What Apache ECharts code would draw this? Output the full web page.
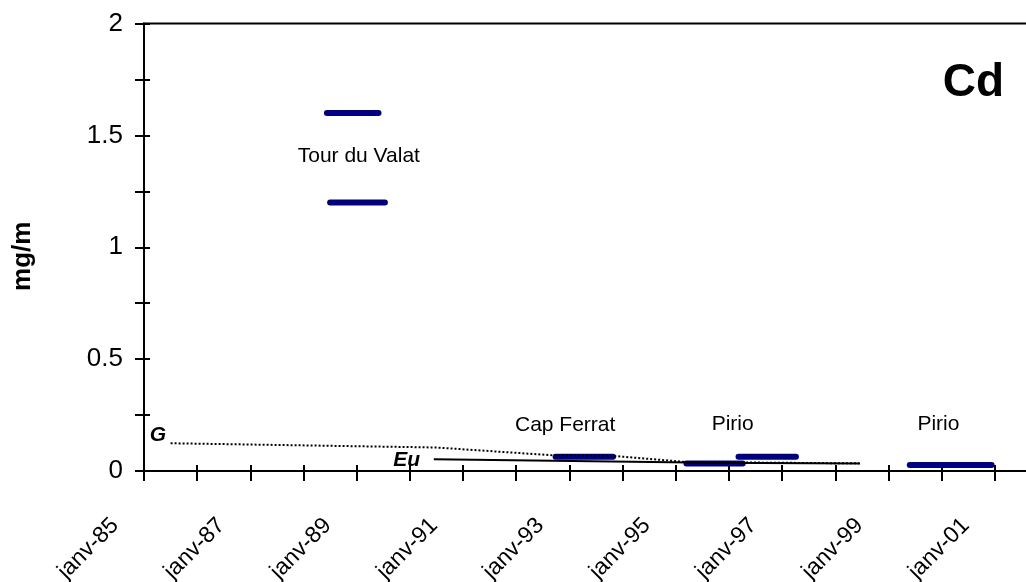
<!DOCTYPE html>
<html>
<head>
<meta charset="utf-8">
<script src="https://cdn.jsdelivr.net/npm/echarts@6/dist/echarts.min.js"></script>
<style>
html,body{margin:0;padding:0;background:#fff;}
#chart{width:1026px;height:582px;}
</style>
</head>
<body>
<div id="chart"></div>
<script>
// ---- data (x in decimal years, y in mg/m) ----
const labelYears = [1985, 1987, 1989, 1991, 1993, 1995, 1997, 1999, 2001];
const tickLabels = ['janv-85','janv-87','janv-89','janv-91','janv-93','janv-95','janv-97','janv-99','janv-01'];
const yTickValues = [0, 0.5, 1, 1.5, 2];
const yTickLabels = ['0', '0.5', '1', '1.5', '2'];

const tourDuValatHigh = [[1988.44, 1.6], [1989.41, 1.6]];
const tourDuValatLow  = [[1988.50, 1.2], [1989.53, 1.2]];
const capFerrat       = [[1992.74, 0.064], [1993.82, 0.064]];
const pirioA          = [[1995.20, 0.034], [1996.26, 0.034]];
const pirioB          = [[1996.18, 0.064], [1997.26, 0.064]];
const pirio2001       = [[1999.40, 0.027], [2000.94, 0.027]];

const gLine  = [[1985.5, 0.124], [1990.5, 0.105], [1992.7, 0.07], [1993.9, 0.066], [1995.2, 0.04], [1998.5, 0.034]];
const euLine = [[1990.45, 0.052], [1995.66, 0.037], [1998.45, 0.034]];

const annotationNames = ['Tour du Valat', 'Cap Ferrat', 'Pirio', 'Pirio'];
const annotationX = [1989.04, 1992.92, 1996.07, 1999.94];
const annotationY = [1.405, 0.203, 0.21, 0.21];
const refNames = ['G', 'Eu'];
const refX = [1985.26, 1989.94];
const refY = [0.161, 0.049];

// ---- chart ----
const FONT = '"Liberation Sans", Arial, Helvetica, sans-serif';
const NAVY = '#000080';
const chart = echarts.init(document.getElementById('chart'), null, {renderer: 'canvas'});

function blueSeries(name, data) {
  return {
    name: name, type: 'line', data: data, xAxisIndex: 0, yAxisIndex: 0,
    showSymbol: false, symbol: 'none', silent: true, animation: false,
    lineStyle: {color: NAVY, width: 6, cap: 'round'}, z: 2
  };
}

const annData = annotationNames.map((n, i) => ({name: n, value: [annotationX[i], annotationY[i]]}));
const refData = refNames.map((n, i) => ({name: n, value: [refX[i], refY[i]]}));

const option = {
  animation: false,
  backgroundColor: '#fff',
  title: {
    text: 'Cd', right: 17, top: 55,
    textStyle: {fontFamily: FONT, fontSize: 46, fontWeight: 'bold', color: '#000'}
  },
  grid: {
    left: 144, right: -22, top: 23.5, bottom: 111,
    containLabel: false, outerBoundsMode: 'none',
    show: true, borderColor: '#000', borderWidth: 2, backgroundColor: 'transparent'
  },
  xAxis: [{
    type: 'value', min: 1985, max: 2002, interval: 1, position: 'bottom',
    axisLine: {show: true, onZero: false, lineStyle: {color: '#000', width: 2}},
    axisTick: {show: true, inside: false, length: 10, lineStyle: {color: '#000', width: 2}},
    splitLine: {show: false},
    axisLabel: {
      show: true, rotate: 45, margin: 22, padding: [0, 41, 0, 0],
      fontFamily: FONT, fontSize: 23, color: '#000', hideOverlap: false,
      formatter: function (v) {
        const i = labelYears.indexOf(Math.round(v));
        return (Math.abs(v - Math.round(v)) < 1e-6 && i >= 0) ? tickLabels[i] : '';
      }
    }
  }, {
    type: 'value', min: 1985, max: 2002, interval: 1, position: 'bottom',
    axisLine: {show: false, onZero: false},
    axisTick: {show: true, inside: true, length: 6, lineStyle: {color: '#000', width: 2}},
    splitLine: {show: false},
    axisLabel: {show: false}
  }],
  yAxis: [{
    type: 'value', min: 0, max: 2, interval: 0.25, position: 'left',
    name: 'mg/m', nameLocation: 'middle', nameGap: 108, nameRotate: 90,
    nameTextStyle: {fontFamily: FONT, fontSize: 26, fontWeight: 'bold', color: '#000', padding: [0, 18, 0, 0]},
    axisLine: {show: true, onZero: false, lineStyle: {color: '#000', width: 2}},
    axisTick: {show: true, inside: false, length: 9, lineStyle: {color: '#000', width: 2}},
    splitLine: {show: false},
    axisLabel: {
      margin: 21, fontFamily: FONT, fontSize: 26, color: '#000',
      formatter: function (v) {
        const i = yTickValues.findIndex(t => Math.abs(t - v) < 1e-9);
        return i >= 0 ? yTickLabels[i] : '';
      }
    }
  }, {
    type: 'value', min: 0, max: 2, interval: 0.25, position: 'left',
    axisLine: {show: false, onZero: false},
    axisTick: {show: true, inside: true, length: 6, lineStyle: {color: '#000', width: 2}},
    splitLine: {show: false},
    axisLabel: {show: false}
  }],
  series: [
    blueSeries('Tour du Valat 1', tourDuValatHigh),
    blueSeries('Tour du Valat 2', tourDuValatLow),
    blueSeries('Cap Ferrat', capFerrat),
    blueSeries('Pirio A', pirioA),
    blueSeries('Pirio B', pirioB),
    blueSeries('Pirio 2001', pirio2001),
    {
      name: 'G', type: 'line', data: gLine, showSymbol: false, symbol: 'none', silent: true,
      lineStyle: {color: '#000', width: 2, type: [2, 2]}, z: 3
    },
    {
      name: 'Eu', type: 'line', data: euLine, showSymbol: false, symbol: 'none', silent: true,
      lineStyle: {color: '#000', width: 2}, z: 3
    },
    {
      name: 'annotations', type: 'scatter', data: annData, symbolSize: 1, silent: true,
      itemStyle: {color: 'rgba(0,0,0,0)', opacity: 1},
      label: {show: true, position: 'inside', formatter: '{b}', fontFamily: FONT, fontSize: 21, color: '#000'},
      z: 4
    },
    {
      name: 'refs', type: 'scatter', data: refData, symbolSize: 1, silent: true,
      itemStyle: {color: 'rgba(0,0,0,0)', opacity: 1},
      label: {show: true, position: 'inside', formatter: '{b}', fontFamily: FONT, fontSize: 21,
              fontWeight: 'bold', fontStyle: 'italic', color: '#000'},
      z: 4
    }
  ]
};
chart.setOption(option);
</script>
</body>
</html>
